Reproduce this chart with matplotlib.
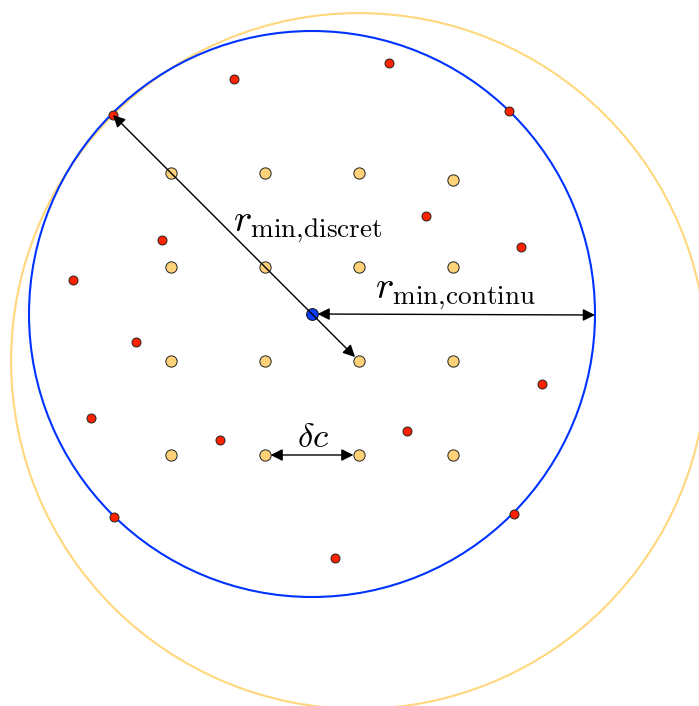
import numpy as np
import matplotlib.pyplot as plt
from matplotlib.patches import Circle

plt.rcParams['mathtext.fontset'] = 'cm'

# pixel coordinates of the diagram (y grows downward)
grid_x = [171, 265, 359, 453, 171, 265, 359, 453, 171, 265, 359, 453, 171, 265, 359, 453]
grid_y = [173, 173, 173, 180, 267, 267, 267, 267, 361, 361, 361, 361, 455, 455, 455, 455]

red_x = [234, 389, 509, 113, 426, 162, 521, 73, 136, 542, 91, 220, 407, 114, 514, 335]
red_y = [79, 63, 111, 115, 216, 240, 247, 280, 342, 384, 418, 440, 431, 517, 514, 558]

center = (312, 314)
r_continu = 283
disc_center = (359, 361)
disc_point = (113, 115)
r_discret = np.hypot(disc_center[0] - disc_point[0], disc_center[1] - disc_point[1])

fig = plt.figure(figsize=(6.99, 7.06), dpi=100)
ax = fig.add_axes([0, 0, 1, 1])
ax.set_xlim(0, 699)
ax.set_ylim(706, 0)
ax.set_aspect('equal')
ax.axis('off')

yellow = '#ffd27a'
ax.add_patch(Circle(disc_center, r_discret, fill=False, ec='#ffd77c', lw=1.5, zorder=1))
ax.add_patch(Circle(center, r_continu, fill=False, ec='#0033ff', lw=1.5, zorder=2))

ax.scatter(grid_x, grid_y, s=66, c=yellow, edgecolors='#222222', linewidths=0.7, zorder=3)
ax.scatter(red_x, red_y, s=42, c='#ff2200', edgecolors='#222222', linewidths=0.7, zorder=3)
ax.scatter([center[0]], [center[1]], s=72, c='#0b3cff', edgecolors='#111111', linewidths=0.7, zorder=3)

arrow = dict(arrowstyle='<|-|>', color='black', lw=1.0, mutation_scale=18)

ax.annotate('', xy=disc_point, xytext=disc_center,
            arrowprops=dict(arrow, shrinkA=4, shrinkB=0), zorder=4)
ax.annotate('', xy=(center[0] + r_continu, center[1] + 1), xytext=center,
            arrowprops=dict(arrow, shrinkA=4, shrinkB=0), zorder=4)
ax.annotate('', xy=(265, 455), xytext=(359, 455),
            arrowprops=dict(arrow, shrinkA=4, shrinkB=4), zorder=4)

ax.text(308, 226, r'$r_{\mathrm{min{,}discret}}$', fontsize=28, ha='center', va='center')
ax.text(455, 293, r'$r_{\mathrm{min{,}continu}}$', fontsize=28, ha='center', va='center')
ax.text(313, 437, r'$\delta c$', fontsize=25, ha='center', va='center')

fig.savefig('out.png', dpi=100)
